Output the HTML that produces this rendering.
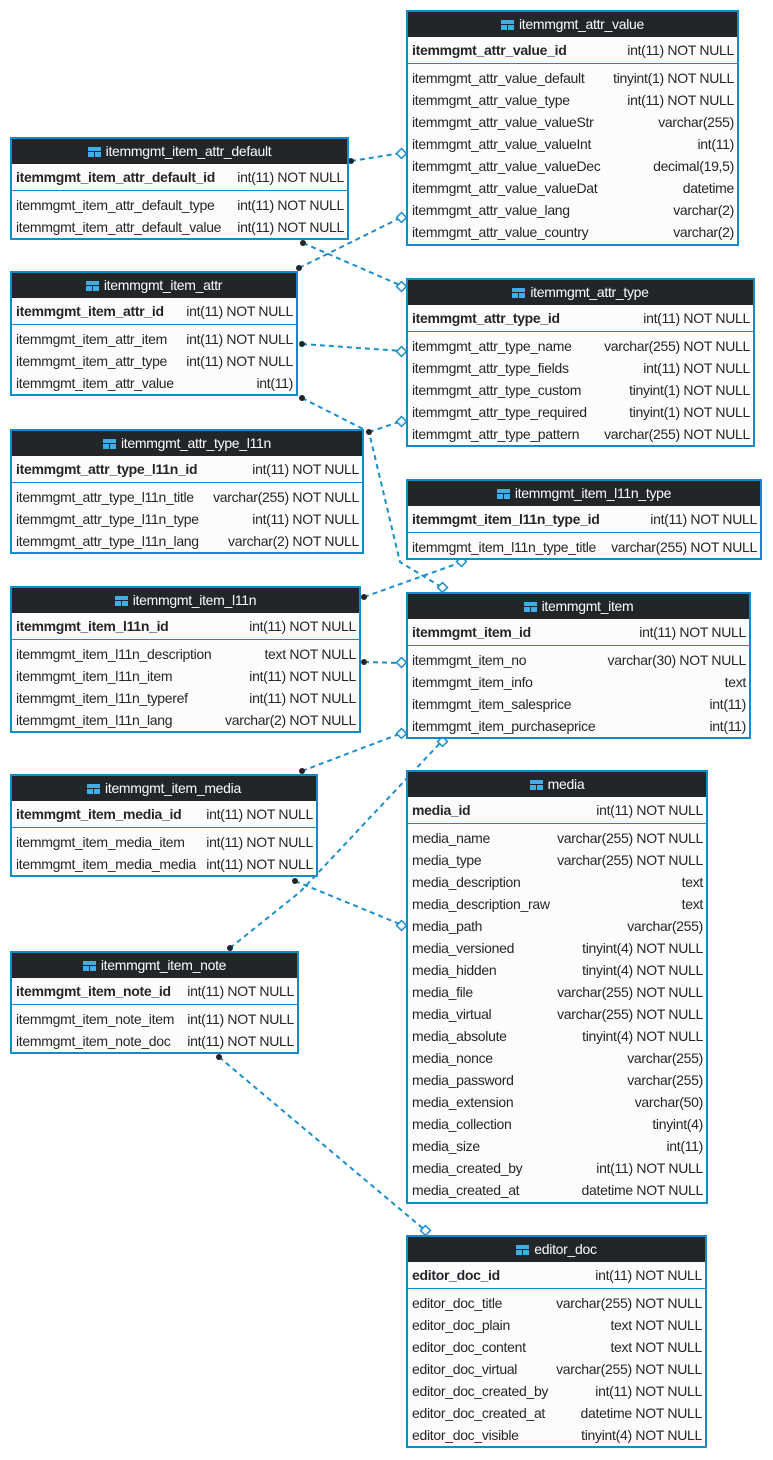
<!DOCTYPE html>
<html><head><meta charset="utf-8"><style>
body{margin:0;width:773px;height:1460px;background:#fff;position:relative;font-family:"Liberation Sans","DejaVu Sans",sans-serif;font-size:14px;letter-spacing:-0.3px;color:#232629;overflow:hidden}
.t{position:absolute;border:2px solid #0e8ccc;background:#fcfcfc;box-sizing:border-box;overflow:hidden}
.h{background:#232629;color:#fcfcfc;height:25px;line-height:25px;text-align:center;white-space:nowrap}
.h i{display:inline-block;width:13px;height:10px;background:#3daee9;margin-right:5px;vertical-align:-1px;position:relative}
.h i:after{content:"";position:absolute;left:0;right:0;top:4px;height:1px;background:#232629}
.h i:before{content:"";position:absolute;top:4px;bottom:0;left:6px;width:1px;background:#232629}
.pk{height:26px;line-height:26px;border-bottom:1px solid #0e8ccc;display:flex;justify-content:space-between;padding:0 3px 0 4px;white-space:nowrap}
.pk b{font-weight:bold}
.rs{padding-top:3px}
.r{height:22px;line-height:22px;display:flex;justify-content:space-between;padding:0 3px 0 4px;white-space:nowrap}
.r span:last-child,.pk span{margin-left:4px}
svg{position:absolute;left:0;top:0}
</style></head><body>
<svg width="773" height="1460">
<g fill="none" stroke="#1b8fcc" stroke-width="2" stroke-dasharray="5,4">
<polyline points="351,161 402,153"/>
<polyline points="299,268 402,217"/>
<polyline points="303,243 402,286"/>
<polyline points="302,344 402,351"/>
<polyline points="369,432 402,421"/>
<polyline points="302,398 369,432 400,562 443,588"/>
<polyline points="364,597 462,562"/>
<polyline points="364,662 402,663"/>
<polyline points="302,771 402,733"/>
<polyline points="230,948 300,892 442,741"/>
<polyline points="295,881 402,925"/>
<polyline points="219,1057 426,1231"/>
</g>
<g fill="#232629">
<circle cx="351" cy="161" r="3"/><circle cx="299" cy="268" r="3"/><circle cx="303" cy="243" r="3"/><circle cx="302" cy="344" r="3"/><circle cx="369" cy="432" r="3"/><circle cx="302" cy="398" r="3"/><circle cx="364" cy="597" r="3"/><circle cx="364" cy="662" r="3"/><circle cx="302" cy="771" r="3"/><circle cx="230" cy="948" r="3"/><circle cx="295" cy="881" r="3"/><circle cx="219" cy="1057" r="3"/>
</g>
<g fill="#fff" stroke="#1b8fcc" stroke-width="1.5">
<rect x="398" y="150" width="7" height="7" transform="rotate(45 401.5 153.5)"/>
<rect x="398" y="214" width="7" height="7" transform="rotate(45 401.5 217.5)"/>
<rect x="398" y="283" width="7" height="7" transform="rotate(45 401.5 286.5)"/>
<rect x="398" y="348" width="7" height="7" transform="rotate(45 401.5 351.5)"/>
<rect x="398" y="418" width="7" height="7" transform="rotate(45 401.5 421.5)"/>
<rect x="439" y="584" width="7" height="7" transform="rotate(45 442.5 587.5)"/>
<rect x="458" y="558" width="7" height="7" transform="rotate(45 461.5 561.5)"/>
<rect x="398" y="659" width="7" height="7" transform="rotate(45 401.5 662.5)"/>
<rect x="398" y="730" width="7" height="7" transform="rotate(45 401.5 733.5)"/>
<rect x="439" y="738" width="7" height="7" transform="rotate(45 442.5 741.5)"/>
<rect x="398" y="922" width="7" height="7" transform="rotate(45 401.5 925.5)"/>
<rect x="422" y="1227" width="7" height="7" transform="rotate(45 425.5 1230.5)"/>
</g>
</svg>

<div class="t" style="left:406px;top:10px;width:333px;height:236px"><div class="h"><i></i>itemmgmt_attr_value</div><div class="pk"><b>itemmgmt_attr_value_id</b><span>int(11) NOT NULL</span></div><div class="rs">
<div class="r"><span>itemmgmt_attr_value_default</span><span>tinyint(1) NOT NULL</span></div>
<div class="r"><span>itemmgmt_attr_value_type</span><span>int(11) NOT NULL</span></div>
<div class="r"><span>itemmgmt_attr_value_valueStr</span><span>varchar(255)</span></div>
<div class="r"><span>itemmgmt_attr_value_valueInt</span><span>int(11)</span></div>
<div class="r"><span>itemmgmt_attr_value_valueDec</span><span>decimal(19,5)</span></div>
<div class="r"><span>itemmgmt_attr_value_valueDat</span><span>datetime</span></div>
<div class="r"><span>itemmgmt_attr_value_lang</span><span>varchar(2)</span></div>
<div class="r"><span>itemmgmt_attr_value_country</span><span>varchar(2)</span></div></div></div>

<div class="t" style="left:10px;top:137px;width:339px;height:103px"><div class="h"><i></i>itemmgmt_item_attr_default</div><div class="pk"><b>itemmgmt_item_attr_default_id</b><span>int(11) NOT NULL</span></div><div class="rs">
<div class="r"><span>itemmgmt_item_attr_default_type</span><span>int(11) NOT NULL</span></div>
<div class="r"><span>itemmgmt_item_attr_default_value</span><span>int(11) NOT NULL</span></div></div></div>

<div class="t" style="left:10px;top:271px;width:288px;height:125px"><div class="h"><i></i>itemmgmt_item_attr</div><div class="pk"><b>itemmgmt_item_attr_id</b><span>int(11) NOT NULL</span></div><div class="rs">
<div class="r"><span>itemmgmt_item_attr_item</span><span>int(11) NOT NULL</span></div>
<div class="r"><span>itemmgmt_item_attr_type</span><span>int(11) NOT NULL</span></div>
<div class="r"><span>itemmgmt_item_attr_value</span><span>int(11)</span></div></div></div>

<div class="t" style="left:406px;top:278px;width:349px;height:169px"><div class="h"><i></i>itemmgmt_attr_type</div><div class="pk"><b>itemmgmt_attr_type_id</b><span>int(11) NOT NULL</span></div><div class="rs">
<div class="r"><span>itemmgmt_attr_type_name</span><span>varchar(255) NOT NULL</span></div>
<div class="r"><span>itemmgmt_attr_type_fields</span><span>int(11) NOT NULL</span></div>
<div class="r"><span>itemmgmt_attr_type_custom</span><span>tinyint(1) NOT NULL</span></div>
<div class="r"><span>itemmgmt_attr_type_required</span><span>tinyint(1) NOT NULL</span></div>
<div class="r"><span>itemmgmt_attr_type_pattern</span><span>varchar(255) NOT NULL</span></div></div></div>

<div class="t" style="left:10px;top:429px;width:354px;height:125px"><div class="h"><i></i>itemmgmt_attr_type_l11n</div><div class="pk"><b>itemmgmt_attr_type_l11n_id</b><span>int(11) NOT NULL</span></div><div class="rs">
<div class="r"><span>itemmgmt_attr_type_l11n_title</span><span>varchar(255) NOT NULL</span></div>
<div class="r"><span>itemmgmt_attr_type_l11n_type</span><span>int(11) NOT NULL</span></div>
<div class="r"><span>itemmgmt_attr_type_l11n_lang</span><span>varchar(2) NOT NULL</span></div></div></div>

<div class="t" style="left:406px;top:479px;width:356px;height:81px"><div class="h"><i></i>itemmgmt_item_l11n_type</div><div class="pk"><b>itemmgmt_item_l11n_type_id</b><span>int(11) NOT NULL</span></div><div class="rs">
<div class="r"><span>itemmgmt_item_l11n_type_title</span><span>varchar(255) NOT NULL</span></div></div></div>

<div class="t" style="left:10px;top:586px;width:351px;height:147px"><div class="h"><i></i>itemmgmt_item_l11n</div><div class="pk"><b>itemmgmt_item_l11n_id</b><span>int(11) NOT NULL</span></div><div class="rs">
<div class="r"><span>itemmgmt_item_l11n_description</span><span>text NOT NULL</span></div>
<div class="r"><span>itemmgmt_item_l11n_item</span><span>int(11) NOT NULL</span></div>
<div class="r"><span>itemmgmt_item_l11n_typeref</span><span>int(11) NOT NULL</span></div>
<div class="r"><span>itemmgmt_item_l11n_lang</span><span>varchar(2) NOT NULL</span></div></div></div>

<div class="t" style="left:406px;top:592px;width:345px;height:147px"><div class="h"><i></i>itemmgmt_item</div><div class="pk"><b>itemmgmt_item_id</b><span>int(11) NOT NULL</span></div><div class="rs">
<div class="r"><span>itemmgmt_item_no</span><span>varchar(30) NOT NULL</span></div>
<div class="r"><span>itemmgmt_item_info</span><span>text</span></div>
<div class="r"><span>itemmgmt_item_salesprice</span><span>int(11)</span></div>
<div class="r"><span>itemmgmt_item_purchaseprice</span><span>int(11)</span></div></div></div>

<div class="t" style="left:10px;top:774px;width:308px;height:103px"><div class="h"><i></i>itemmgmt_item_media</div><div class="pk"><b>itemmgmt_item_media_id</b><span>int(11) NOT NULL</span></div><div class="rs">
<div class="r"><span>itemmgmt_item_media_item</span><span>int(11) NOT NULL</span></div>
<div class="r"><span>itemmgmt_item_media_media</span><span>int(11) NOT NULL</span></div></div></div>

<div class="t" style="left:406px;top:770px;width:302px;height:434px"><div class="h"><i></i>media</div><div class="pk"><b>media_id</b><span>int(11) NOT NULL</span></div><div class="rs">
<div class="r"><span>media_name</span><span>varchar(255) NOT NULL</span></div>
<div class="r"><span>media_type</span><span>varchar(255) NOT NULL</span></div>
<div class="r"><span>media_description</span><span>text</span></div>
<div class="r"><span>media_description_raw</span><span>text</span></div>
<div class="r"><span>media_path</span><span>varchar(255)</span></div>
<div class="r"><span>media_versioned</span><span>tinyint(4) NOT NULL</span></div>
<div class="r"><span>media_hidden</span><span>tinyint(4) NOT NULL</span></div>
<div class="r"><span>media_file</span><span>varchar(255) NOT NULL</span></div>
<div class="r"><span>media_virtual</span><span>varchar(255) NOT NULL</span></div>
<div class="r"><span>media_absolute</span><span>tinyint(4) NOT NULL</span></div>
<div class="r"><span>media_nonce</span><span>varchar(255)</span></div>
<div class="r"><span>media_password</span><span>varchar(255)</span></div>
<div class="r"><span>media_extension</span><span>varchar(50)</span></div>
<div class="r"><span>media_collection</span><span>tinyint(4)</span></div>
<div class="r"><span>media_size</span><span>int(11)</span></div>
<div class="r"><span>media_created_by</span><span>int(11) NOT NULL</span></div>
<div class="r"><span>media_created_at</span><span>datetime NOT NULL</span></div></div></div>

<div class="t" style="left:10px;top:951px;width:289px;height:103px"><div class="h"><i></i>itemmgmt_item_note</div><div class="pk"><b>itemmgmt_item_note_id</b><span>int(11) NOT NULL</span></div><div class="rs">
<div class="r"><span>itemmgmt_item_note_item</span><span>int(11) NOT NULL</span></div>
<div class="r"><span>itemmgmt_item_note_doc</span><span>int(11) NOT NULL</span></div></div></div>

<div class="t" style="left:406px;top:1235px;width:301px;height:213px"><div class="h"><i></i>editor_doc</div><div class="pk"><b>editor_doc_id</b><span>int(11) NOT NULL</span></div><div class="rs">
<div class="r"><span>editor_doc_title</span><span>varchar(255) NOT NULL</span></div>
<div class="r"><span>editor_doc_plain</span><span>text NOT NULL</span></div>
<div class="r"><span>editor_doc_content</span><span>text NOT NULL</span></div>
<div class="r"><span>editor_doc_virtual</span><span>varchar(255) NOT NULL</span></div>
<div class="r"><span>editor_doc_created_by</span><span>int(11) NOT NULL</span></div>
<div class="r"><span>editor_doc_created_at</span><span>datetime NOT NULL</span></div>
<div class="r"><span>editor_doc_visible</span><span>tinyint(4) NOT NULL</span></div></div></div>
</body></html>
